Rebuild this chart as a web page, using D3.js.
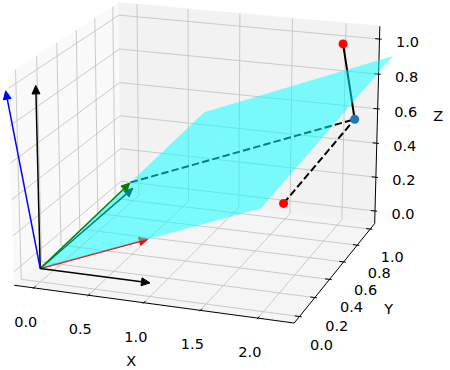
<!DOCTYPE html>
<html><head><meta charset="utf-8">
<script src="https://cdn.jsdelivr.net/npm/d3@7"></script>
<style>
body { margin: 0; background: #fff; }
text { font-family: "DejaVu Sans", sans-serif; font-size: 14.5px; fill: #000; }
</style>
</head><body>
<svg id="chart" width="450" height="370"></svg>
<script>
// view of the 3d axes
var elev = 18.38, azim = -70.55, dist = 9.29;
var xLim = [-0.13, 2.262], yLim = [-0.044, 1.047], zLim = [-0.0525, 1.0495];

var xTicks = [0, 0.5, 1.0, 1.5, 2.0];
var yTicks = [0, 0.2, 0.4, 0.6, 0.8, 1.0];
var zTicks = [0, 0.2, 0.4, 0.6, 0.8, 1.0];

// vectors drawn from the origin
var unitVecs = [[1, 0, 0], [0, 1, 0], [0, 0, 1]];
var colA1 = [1, -0.02, 0.25];
var colA2 = [-0.03, 1, 0.03];
var normalVec = [-0.24, -0.035, 0.97];

// points
var target = [2.05, 0.95, 1.0];
var projected = [2.16, 0.97, 0.57];
var alongA1 = [2.19, -0.04, 0.54];
var alongA2 = [-0.03, 1.01, 0.03];

// plane spanned by colA1, colA2 (coefficient ranges)
var planeS = [0, 2], planeT = [0, 2];

var svg = d3.select("#chart");

var k = 1.8294640721620434 / Math.sqrt(41);
var box = [4 * k, 4 * k, 3 * k];
var sx = d3.scaleLinear().domain(xLim).range([0, box[0]]);
var sy = d3.scaleLinear().domain(yLim).range([0, box[1]]);
var sz = d3.scaleLinear().domain(zLim).range([0, box[2]]);
var px = d3.scaleLinear().domain([-1, 1]).range([201.06 - 2234.7, 201.06 + 2234.7]);
var py = d3.scaleLinear().domain([-1, 1]).range([152.91 + 2234.7, 152.91 - 2234.7]);

var e = elev * Math.PI / 180, a = azim * Math.PI / 180;
var nv = [Math.cos(e) * Math.cos(a), Math.cos(e) * Math.sin(a), Math.sin(e)];
var eye = [box[0] / 2 + dist * nv[0], box[1] / 2 + dist * nv[1], box[2] / 2 + dist * nv[2]];
var un = Math.hypot(nv[0], nv[1]);
var uv = [-nv[1] / un, nv[0] / un, 0];
var vv = [nv[1] * uv[2] - nv[2] * uv[1], nv[2] * uv[0] - nv[0] * uv[2], nv[0] * uv[1] - nv[1] * uv[0]];

function dot(p, q) { return p[0] * q[0] + p[1] * q[1] + p[2] * q[2]; }

function proj(p) {
    var d = [sx(p[0]) - eye[0], sy(p[1]) - eye[1], sz(p[2]) - eye[2]];
    var w = -dot(nv, d);
    return [px(dot(uv, d) / w), py(dot(vv, d) / w)];
}

// pane bounds, a bit outside the limits
function padded(l) { var dd = (l[1] - l[0]) / 48; return [l[0] - dd, l[1] + dd]; }
var X = padded(xLim), Y = padded(yLim), Z = padded(zLim);

function poly(pts) { return "M" + pts.map(proj).map(function (q) { return q.join(","); }).join("L") + "Z"; }
function line(p, q) { return "M" + proj(p).join(",") + "L" + proj(q).join(","); }
function polyline(pts) { return "M" + pts.map(proj).map(function (q) { return q.join(","); }).join("L"); }

// panes
var panes = [
    {pts: [[X[0], Y[0], Z[0]], [X[0], Y[1], Z[0]], [X[0], Y[1], Z[1]], [X[0], Y[0], Z[1]]], fill: "#f9f9f9"},
    {pts: [[X[0], Y[1], Z[0]], [X[1], Y[1], Z[0]], [X[1], Y[1], Z[1]], [X[0], Y[1], Z[1]]], fill: "#f2f2f2"},
    {pts: [[X[0], Y[0], Z[0]], [X[1], Y[0], Z[0]], [X[1], Y[1], Z[0]], [X[0], Y[1], Z[0]]], fill: "#f5f5f5"}
];
svg.selectAll("path.pane").data(panes).enter().append("path")
    .attr("class", "pane")
    .attr("d", function (d) { return poly(d.pts); })
    .attr("fill", function (d) { return d.fill; })
    .attr("stroke", function (d) { return d.fill; });

// grid
var grid = svg.append("g").attr("fill", "none").attr("stroke", "#c4c4c4").attr("stroke-width", 0.9);
xTicks.forEach(function (t) {
    grid.append("path").attr("d", polyline([[t, Y[0], Z[0]], [t, Y[1], Z[0]], [t, Y[1], Z[1]]]));
});
yTicks.forEach(function (t) {
    grid.append("path").attr("d", polyline([[X[1], t, Z[0]], [X[0], t, Z[0]], [X[0], t, Z[1]]]));
});
zTicks.forEach(function (t) {
    grid.append("path").attr("d", polyline([[X[0], Y[0], t], [X[0], Y[1], t], [X[1], Y[1], t]]));
});

// axis lines and ticks
var ax = svg.append("g").attr("stroke", "#000").attr("stroke-width", 1).attr("fill", "none");
ax.append("path").attr("d", line([X[0], Y[0], Z[0]], [X[1], Y[0], Z[0]]));
ax.append("path").attr("d", line([X[1], Y[0], Z[0]], [X[1], Y[1], Z[0]]));
ax.append("path").attr("d", line([X[1], Y[1], Z[0]], [X[1], Y[1], Z[1]]));
var dy = (yLim[1] - yLim[0]) / 12, dx = (xLim[1] - xLim[0]) / 12;
xTicks.forEach(function (t) { ax.append("path").attr("d", line([t, Y[0] + 0.2 * dy, Z[0]], [t, Y[0] - 0.1 * dy, Z[0]])); });
yTicks.forEach(function (t) { ax.append("path").attr("d", line([X[1] - 0.2 * dx, t, Z[0]], [X[1] + 0.1 * dx, t, Z[0]])); });
zTicks.forEach(function (t) { ax.append("path").attr("d", line([X[1] - 0.2 * dx, Y[1], t], [X[1] + 0.1 * dx, Y[1], t])); });

// tick labels
function label(p, off, txt) {
    var q = proj(p);
    svg.append("text").attr("x", q[0] + off[0]).attr("y", q[1] + off[1])
        .attr("text-anchor", "middle").attr("dominant-baseline", "central").text(txt);
}
xTicks.forEach(function (t) { label([t, Y[0], Z[0]], [-8, 34], t.toFixed(1)); });
yTicks.forEach(function (t) { label([X[1], t, Z[0]], [22, 28], t.toFixed(1)); });
zTicks.forEach(function (t) { label([X[1], Y[1], t], [28, 3], t.toFixed(1)); });
label([(X[0] + X[1]) / 2, Y[0], Z[0]], [-20, 57], "X");
label([X[1], (Y[0] + Y[1]) / 2, Z[0]], [52, 39], "Y");
label([X[1], Y[1], (Z[0] + Z[1]) / 2], [61, -10], "Z");

// arrows
var origin = [0, 0, 0];
function arrow(p, q, color) {
    var s = proj(p), t = proj(q);
    var L = Math.hypot(t[0] - s[0], t[1] - s[1]);
    var ux = (t[0] - s[0]) / L, uy = (t[1] - s[1]) / L;
    var hl = 8.5, hw = 4;
    var bx = t[0] - ux * hl, by = t[1] - uy * hl;
    var g = svg.append("g");
    g.append("line").attr("x1", s[0]).attr("y1", s[1]).attr("x2", bx).attr("y2", by)
        .attr("stroke", color).attr("stroke-width", 1.5);
    g.append("path")
        .attr("d", "M" + t[0] + "," + t[1] + "L" + (bx - uy * hw) + "," + (by + ux * hw) + "L" + (bx + uy * hw) + "," + (by - ux * hw) + "Z")
        .attr("fill", color).attr("stroke", color).attr("stroke-width", 1);
}

function seg(p, q, color, dashed) {
    svg.append("path").attr("d", line(p, q)).attr("stroke", color).attr("stroke-width", 2)
        .attr("fill", "none").attr("stroke-dasharray", dashed ? "7.4,3.2" : null);
}

// drawn below the plane
seg(alongA2, projected, "#000", true);
seg(target, projected, "#000", false);
arrow(origin, unitVecs[1], "#000");
arrow(origin, colA1, "red");

// plane, two triangles
function onPlane(s, t) { return [0, 1, 2].map(function (i) { return s * colA1[i] + t * colA2[i]; }); }
var c00 = onPlane(planeS[0], planeT[0]), c10 = onPlane(planeS[1], planeT[0]),
    c01 = onPlane(planeS[0], planeT[1]), c11 = onPlane(planeS[1], planeT[1]);
[[c00, c10, c01], [c10, c11, c01]].forEach(function (tri) {
    svg.append("path").attr("d", poly(tri)).attr("fill", "cyan").attr("fill-opacity", 0.5);
});

// drawn above the plane
arrow(origin, colA2, "green");
arrow(origin, unitVecs[0], "#000");
arrow(origin, unitVecs[2], "#000");
arrow(origin, normalVec, "blue");
seg(alongA1, projected, "#000", true);

var dots = [[target, "red"], [alongA1, "red"], [projected, "#1f77b4"]];
dots.forEach(function (d) {
    var q = proj(d[0]);
    svg.append("circle").attr("cx", q[0]).attr("cy", q[1]).attr("r", 4.5).attr("fill", d[1]);
});
</script>
</body></html>
